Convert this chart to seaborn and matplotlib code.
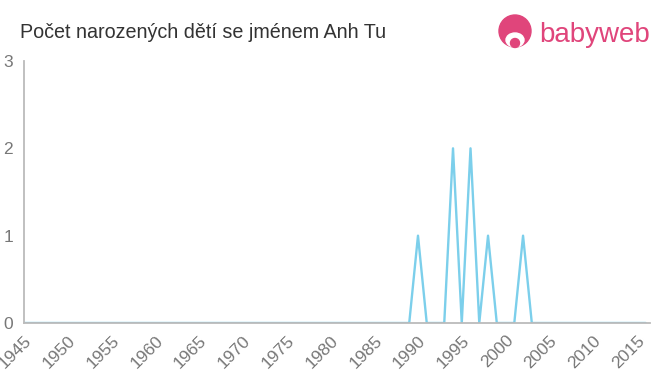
import matplotlib
matplotlib.use("Agg")
import matplotlib.pyplot as plt
import seaborn as sns
import pandas as pd
from matplotlib.patches import Circle, Ellipse

years = list(range(1945, 2017))
peak_years = [1990, 1994, 1996, 1998, 2002]
peak_counts = [1, 2, 2, 1, 1]
counts = [peak_counts[peak_years.index(y)] if y in peak_years else 0 for y in years]
xticks = list(range(1945, 2016, 5))
yticks = [0, 1, 2, 3]
title = "Počet narozených dětí se jménem Anh Tu"

df = pd.DataFrame({"year": years, "count": counts})

sns.set_style("white")
plt.rcParams['font.family'] = ['Liberation Sans', 'DejaVu Sans']

fig = plt.figure(figsize=(6.6, 3.75), dpi=100)
ax = fig.add_axes([24/660, 1-323/375, (650-24)/660, (323-61)/375])
sns.lineplot(data=df, x="year", y="count", ax=ax, color="#7ccfeb", linewidth=1.7)

ax.set_xlim(1945, 2016.5)
ax.set_ylim(0, 3)
ax.set_xticks(xticks)
ax.set_yticks(yticks)
ax.set_xticklabels([str(x) for x in xticks], rotation=45, ha="right", rotation_mode="anchor")
ax.tick_params(axis="both", colors="#bbbbbb", labelcolor="#777777", labelsize=12.5, length=5, width=1.2)
ax.tick_params(axis="x", pad=2)
ax.tick_params(axis="y", pad=3)
ax.set_xlabel("")
ax.set_ylabel("")
for s in ["top", "right"]:
    ax.spines[s].set_visible(False)
for s in ["left", "bottom"]:
    ax.spines[s].set_color("#bbbbbb")
    ax.spines[s].set_linewidth(1.3)

fig.text(20/660, 1-32/375, title, fontsize=14.2, color="#333333", va="center", ha="left")

# logo
lax = fig.add_axes([0, 0, 1, 1], facecolor="none")
lax.set_xlim(0, 660)
lax.set_ylim(375, 0)
lax.axis("off")
pink = "#e0457b"
lax.add_patch(Circle((515, 31), 16, color=pink))
lax.add_patch(Ellipse((515, 40), 18, 14, color="white"))
lax.add_patch(Circle((515, 43), 4.5, color=pink))
fig.text(539/660, 1-35/375, "babyweb", fontsize=20, color=pink, va="center", ha="left")

fig.savefig("out.png", dpi=100)
